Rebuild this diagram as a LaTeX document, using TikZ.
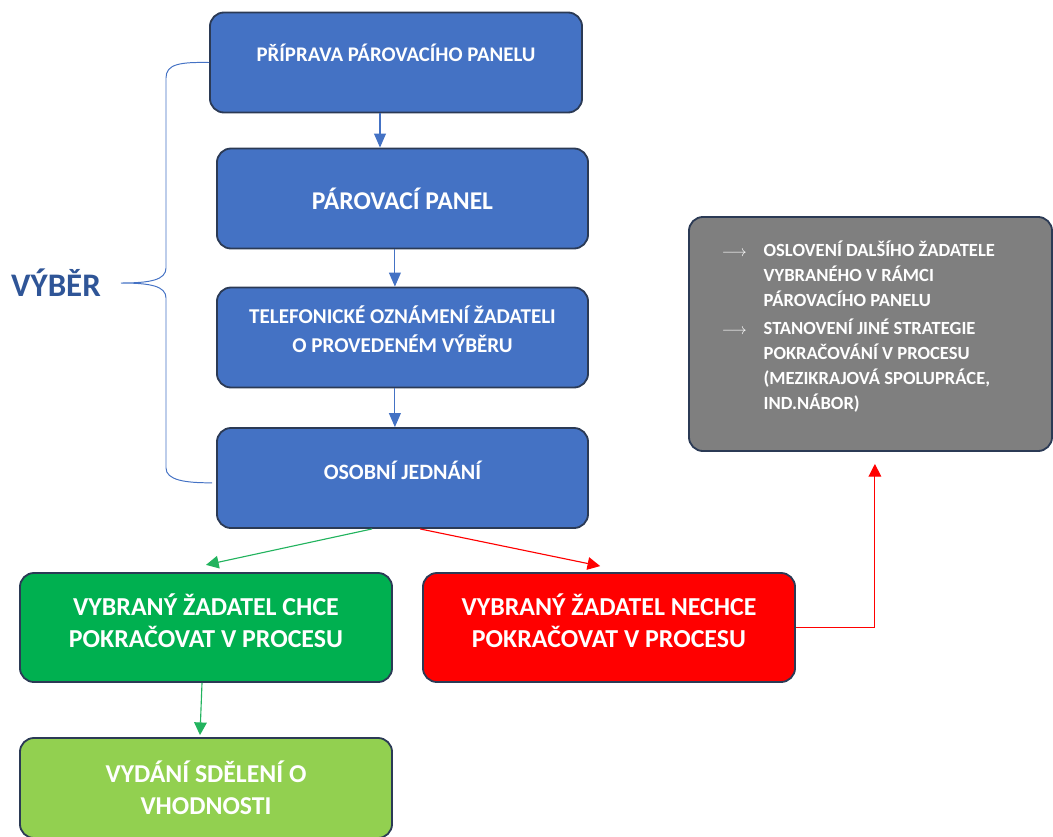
\documentclass[tikz,border=0pt]{standalone}
\usepackage{fontspec}
\setmainfont{Carlito}
\usetikzlibrary{positioning,arrows.meta,calc}
\definecolor{panelblue}{HTML}{4472C4}
\definecolor{edgenavy}{HTML}{2B3A55}
\definecolor{yesgreen}{HTML}{00B050}
\definecolor{nored}{HTML}{FF0000}
\definecolor{leafgreen}{HTML}{92D050}
\definecolor{notegray}{HTML}{7F7F7F}
\definecolor{titleblue}{HTML}{2F5597}
\definecolor{linkgreen}{HTML}{22B35E}

\begin{document}
\begin{tikzpicture}[x=0.025cm,y=-0.025cm,
                    flow box/.style={rectangle,rounded corners=10pt,draw=edgenavy,
                                     line width=1.3pt,text=white,align=center,
                                     inner sep=2pt,minimum width=9.3cm,minimum height=2.5cm},
                    blue box/.style={flow box,fill=panelblue,minimum width=9.275cm},
                    yes box/.style={flow box,fill=yesgreen,minimum height=2.725cm},
                    no box/.style={flow box,fill=nored,minimum height=2.725cm},
                    leaf box/.style={flow box,fill=leafgreen},
                    note box/.style={flow box,fill=notegray,align=flush left,
                                     text width=7.425cm,inner xsep=0.825cm,
                                     minimum width=9.075cm,minimum height=5.85cm},
                    blue link/.style={draw=panelblue,line width=0.8pt,
                                      -{Triangle[length=10pt,width=8.5pt]}},
                    green link/.style={draw=linkgreen,line width=0.8pt,
                                       -{Triangle[length=9pt,width=9pt]}},
                    red link/.style={draw=nored,line width=0.8pt,
                                     -{Triangle[length=9pt,width=9pt]}}
                   ]
   \useasboundingbox (0,0) rectangle (1053,836);

   % selection steps
   \node[blue box,text depth=0.5cm,minimum width=9.3cm,
         font=\fontsize{14.8}{18}\bfseries] (prep) at (396,62.5) {PŘÍPRAVA PÁROVACÍHO PANELU};
   \node[blue box,font=\fontsize{18.2}{21}\bfseries] (panel) at (402.5,198.5) {PÁROVACÍ PANEL};
   \node[blue box,text depth=0.42cm,
         font=\fontsize{15}{20}\bfseries] (call) at (402.5,337.5) {TELEFONICKÉ OZNÁMENÍ ŽADATELI\\O PROVEDENÉM VÝBĚRU};
   \node[blue box,text depth=0.4cm,
         font=\fontsize{15.6}{18}\bfseries] (meet) at (402.5,478) {OSOBNÍ JEDNÁNÍ};

   % outcomes
   \node[yes box,text depth=0.33cm,
         font=\fontsize{18.4}{23}\bfseries] (yes) at (206,627.5) {VYBRANÝ ŽADATEL CHCE\\POKRAČOVAT V PROCESU};
   \node[no box,text depth=0.33cm,
         font=\fontsize{18.4}{23}\bfseries] (no) at (609,627.5) {VYBRANÝ ŽADATEL NECHCE\\POKRAČOVAT V PROCESU};
   \node[leaf box,font=\fontsize{18.3}{23}\bfseries] (notice) at (206,788) {VYDÁNÍ SDĚLENÍ O\\VHODNOSTI};
   \node[note box,font=\fontsize{13.2}{17.8}\bfseries] (opt) at (870.5,334) {%
     \begin{tabular}{@{}l@{\hspace{12pt}}l@{}}
      {\fontsize{11}{13}\selectfont$\longrightarrow$} & OSLOVENÍ DALŠÍHO ŽADATELE\\
                        & VYBRANÉHO V RÁMCI\\
                        & PÁROVACÍHO PANELU\\[2pt]
      {\fontsize{11}{13}\selectfont$\longrightarrow$} & STANOVENÍ JINÉ STRATEGIE\\
                        & POKRAČOVÁNÍ V PROCESU\\
                        & (MEZIKRAJOVÁ SPOLUPRÁCE,\\
                        & IND.NÁBOR)\\[8pt]
     \end{tabular}};

   % brace
   \node[text=titleblue,font=\fontsize{23.4}{26}\bfseries] (sel) at (56,283) {VÝBĚR};
   \draw[panelblue,line width=0.7pt]
     (prep.west) .. controls (180,62) and (166,64) .. (166,78) -- (166,268)
     .. controls (166,280) and (150,283) .. (121,283)
     .. controls (150,283) and (166,286) .. (166,298) -- (166,468)
     .. controls (166,480) and (185,483) .. ([xshift=-0.1cm,yshift=-0.12cm]meet.west);

   \path%
    ([xshift=-0.4cm]prep.south) edge [blue link] ([xshift=-0.4cm]prep.south |- panel.north)
    ([xshift=-0.19cm]panel.south) edge [blue link] ([xshift=-0.19cm]panel.south |- call.north)
    ([xshift=-0.19cm]call.south) edge [blue link] ([xshift=-0.19cm]call.south |- meet.north)
    ([xshift=-0.76cm]meet.south) edge [green link] ([yshift=0.18cm]yes.north)
    ([xshift=0.44cm]meet.south) edge [red link] ([xshift=-0.22cm,yshift=0.15cm]no.north)
    ([xshift=-0.1cm]yes.south) edge [green link] ([xshift=-0.15cm,yshift=0.05cm]notice.north);
   \draw[red link] (no.east) -| ([xshift=0.11cm,yshift=-0.3cm]opt.south);
\end{tikzpicture}
\end{document}
